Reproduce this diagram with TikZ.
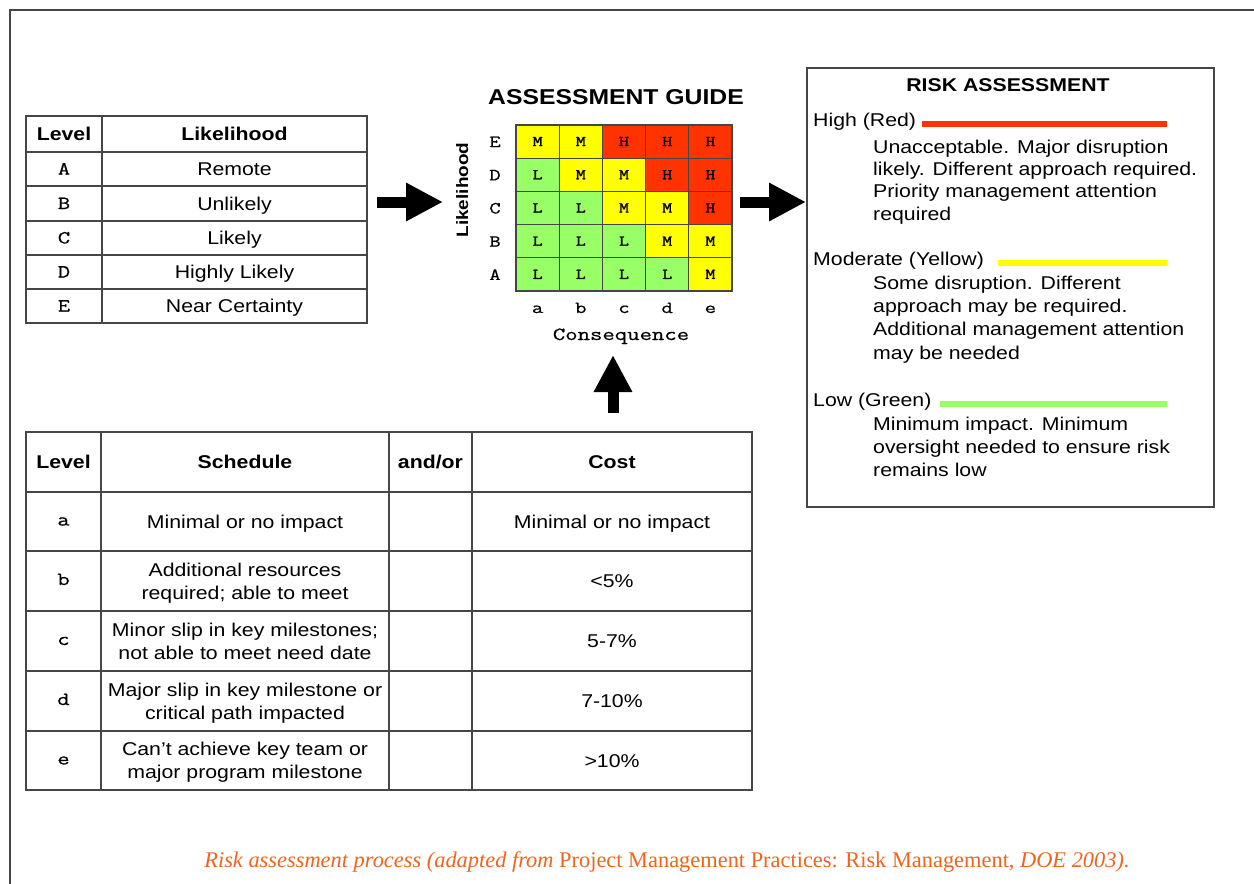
\documentclass[tikz,border=0pt]{standalone}
\usepackage{fontspec}
\setmainfont{Liberation Sans}[FakeStretch=1.15]
\newfontfamily\cour{Latin Modern Mono}[FakeStretch=1.3, FakeBold=0.6]
\newfontfamily\courb{Latin Modern Mono}[FakeStretch=1.3, FakeBold=1.6]
\newfontfamily\capfont{Liberation Serif}
\usetikzlibrary{arrows.meta}
\newcommand\myfs[1]{\fontsize{#1}{#1}\selectfont}
\definecolor{rred}{RGB}{255,51,0}
\definecolor{ryel}{RGB}{255,255,0}
\definecolor{rgrn}{RGB}{153,255,102}
\definecolor{capor}{RGB}{240,100,30}
\definecolor{ln}{RGB}{70,70,70}
\begin{document}
\begin{tikzpicture}[x=1pt,y=-1pt,
  txt/.style={inner sep=0pt, font=\myfs{18.5}, text height=13pt, text depth=0pt},
  hdr/.style={txt, font=\myfs{18.5}\bfseries},
  mono/.style={inner sep=0pt, font=\cour\myfs{18.5}, text height=11pt, text depth=0pt},
  monol/.style={inner sep=0pt, font=\cour\myfs{18.5}, text height=8pt, text depth=0pt},
  tline/.style={draw=ln, line width=1.3pt},
  gcell/.style={draw=ln, line width=1.2pt, minimum width=43.2pt, minimum height=33.2pt, inner sep=0pt, font=\courb\myfs{15}, text height=9pt, text depth=0pt},
  bigarrow/.style={line width=11pt, -{Triangle[length=37pt,width=36pt]}},
  bar/.style={line width=6pt},
]
\useasboundingbox (0,0) rectangle (1254,884);
\fill[white] (0,0) rectangle (1254,884);
% outer frame
\draw[ln, line width=2pt] (10,884) -- (10,10) -- (1254,10);

% ---------- top-left likelihood table ----------
\node[minimum width=341pt, minimum height=207pt, inner sep=0pt, anchor=north west] (lt) at (26,116) {};
\draw[tline] (26,116) rectangle (367,323);
\draw[tline] (102,116) -- (102,323);
\foreach \y in {152,186,221,255,289} \draw[tline] (26,\y) -- (367,\y);
\node[hdr] (lth1) at (64,134) {Level};
\node[hdr] (lth2) at (234.5,134) {Likelihood};
\node[mono] (ltA) at (64,169) {A};
\node[mono] (ltB) at (64,203.5) {B};
\node[mono] (ltC) at (64,238) {C};
\node[mono] (ltD) at (64,272) {D};
\node[mono] (ltE) at (64,306) {E};
\node[txt] (ltA2) at (234.5,169) {Remote};
\node[txt] (ltB2) at (234.5,203.5) {Unlikely};
\node[txt] (ltC2) at (234.5,238) {Likely};
\node[txt] (ltD2) at (234.5,272) {Highly Likely};
\node[txt] (ltE2) at (234.5,306) {Near Certainty};

% ---------- assessment guide ----------
\node[inner sep=0pt, font=\myfs{21.5}\bfseries, text height=15.5pt, text depth=0pt] (agt) at (616,97) {ASSESSMENT GUIDE};
\newcommand\gcell[4]{\node[gcell, fill=#3] (g#1#2) at ({516+43.2*(#2-0.5)},{125+33.2*(#1-0.5)}) {#4};}
\gcell{1}{1}{ryel}{M}\gcell{1}{2}{ryel}{M}\gcell{1}{3}{rred}{H}\gcell{1}{4}{rred}{H}\gcell{1}{5}{rred}{H}
\gcell{2}{1}{rgrn}{L}\gcell{2}{2}{ryel}{M}\gcell{2}{3}{ryel}{M}\gcell{2}{4}{rred}{H}\gcell{2}{5}{rred}{H}
\gcell{3}{1}{rgrn}{L}\gcell{3}{2}{rgrn}{L}\gcell{3}{3}{ryel}{M}\gcell{3}{4}{ryel}{M}\gcell{3}{5}{rred}{H}
\gcell{4}{1}{rgrn}{L}\gcell{4}{2}{rgrn}{L}\gcell{4}{3}{rgrn}{L}\gcell{4}{4}{ryel}{M}\gcell{4}{5}{ryel}{M}
\gcell{5}{1}{rgrn}{L}\gcell{5}{2}{rgrn}{L}\gcell{5}{3}{rgrn}{L}\gcell{5}{4}{rgrn}{L}\gcell{5}{5}{ryel}{M}
\draw[draw=ln, line width=1.5pt] (516,125) rectangle (732,291);
\node[mono, font=\cour\myfs{17}] (rE) at (495,141.6) {E};
\node[mono, font=\cour\myfs{17}] (rD) at (495,174.8) {D};
\node[mono, font=\cour\myfs{17}] (rC) at (495,208) {C};
\node[mono, font=\cour\myfs{17}] (rB) at (495,241.2) {B};
\node[mono, font=\cour\myfs{17}] (rA) at (495,274.4) {A};
\node[monol, font=\cour\myfs{17}] (ca) at (537.6,309) {a};
\node[monol, font=\cour\myfs{17}] (cb) at (580.8,309) {b};
\node[monol, font=\cour\myfs{17}] (cc) at (624,309) {c};
\node[monol, font=\cour\myfs{17}] (cd) at (667.2,309) {d};
\node[monol, font=\cour\myfs{17}] (ce) at (710.4,309) {e};
\node[monol] (cons) at (621,336) {Consequence};
\node[inner sep=0pt, font=\myfs{16.5}\bfseries, rotate=90, text height=12pt, text depth=0pt] (likl) at (462,190) {Likelihood};

% ---------- risk assessment box ----------
\node[draw=ln, line width=1.5pt, minimum width=407pt, minimum height=439pt, inner sep=0pt, anchor=north west] (rbox) at (806,67) {};
\node[hdr] (rbt) at (1008,85) {RISK ASSESSMENT};
\node[txt, anchor=base west] (hi) at (813,126.5) {High (Red)};
\node[txt, anchor=base west] (hi1) at (873,153.5) {Unacceptable. Major disruption};
\node[txt, anchor=base west] (hi2) at (873,175.5) {likely. Different approach required.};
\node[txt, anchor=base west] (hi3) at (873,197.5) {Priority management attention};
\node[txt, anchor=base west] (hi4) at (873,220.5) {required};
\node[txt, anchor=base west] (mo) at (813,265.5) {Moderate (Yellow)};
\node[txt, anchor=base west] (mo1) at (873,289.5) {Some disruption. Different};
\node[txt, anchor=base west] (mo2) at (873,312.5) {approach may be required.};
\node[txt, anchor=base west] (mo3) at (873,335.5) {Additional management attention};
\node[txt, anchor=base west] (mo4) at (873,359.5) {may be needed};
\node[txt, anchor=base west] (lo) at (813,406.5) {Low (Green)};
\node[txt, anchor=base west] (lo1) at (873,430.5) {Minimum impact. Minimum};
\node[txt, anchor=base west] (lo2) at (873,453) {oversight needed to ensure risk};
\node[txt, anchor=base west] (lo3) at (873,476.5) {remains low};
\draw[bar, rred] (922,124) -- (1167,124);
\draw[bar, ryel] (998,263) -- (1167,263);
\draw[bar, rgrn] (940,404) -- (1167,404);

% ---------- bottom consequence table ----------
\node[minimum width=726pt, minimum height=358pt, inner sep=0pt, anchor=north west] (bt) at (26,432) {};
\draw[tline] (26,432) rectangle (752,790);
\foreach \x in {101,389,472} \draw[tline] (\x,432) -- (\x,790);
\foreach \y in {492,551,611,671,731} \draw[tline] (26,\y) -- (752,\y);
\node[hdr] (bh1) at (63.5,462) {Level};
\node[hdr] (bh2) at (245,462) {Schedule};
\node[hdr] (bh3) at (430.5,462) {and/or};
\node[hdr] (bh4) at (612,462) {Cost};
\node[monol] (ba) at (63.5,521.5) {a};
\node[monol] (bb) at (63.5,581) {b};
\node[monol] (bc) at (63.5,641) {c};
\node[monol] (bd) at (63.5,701) {d};
\node[monol] (be) at (63.5,760.5) {e};
\node[txt] (sa) at (245,521.5) {Minimal or no impact};
\node[txt] (sb1) at (245,570) {Additional resources};
\node[txt] (sb2) at (245,593) {required; able to meet};
\node[txt] (sc1) at (245,630) {Minor slip in key milestones;};
\node[txt] (sc2) at (245,653) {not able to meet need date};
\node[txt] (sd1) at (245,690) {Major slip in key milestone or};
\node[txt] (sd2) at (245,713) {critical path impacted};
\node[txt] (se1) at (245,749) {Can't achieve key team or};
\node[txt] (se2) at (245,772) {major program milestone};
\node[txt] (ka) at (612,521.5) {Minimal or no impact};
\node[txt] (kb) at (612,581) {<5\%};
\node[txt] (kc) at (612,641) {5-7\%};
\node[txt] (kd) at (612,701) {7-10\%};
\node[txt] (ke) at (612,760.5) {>10\%};

% ---------- arrows ----------
\coordinate (a1s) at (377,202);
\coordinate (a1e) at (443,202);
\draw[bigarrow] (a1s) -- (a1e);
\coordinate (a2s) at (740,202);
\draw[bigarrow] (a2s) -- (rbox.west |- a2s);
\coordinate (a3s) at (613,413);
\coordinate (a3e) at (613,355);
\draw[bigarrow] (a3s) -- (a3e);

% ---------- caption ----------
\node[inner sep=0pt, text=capor, font=\capfont\myfs{22.4}, text height=14.5pt, text depth=0pt] (cap) at (667,860)
  {\itshape Risk assessment process (adapted from \upshape Project Management Practices: Risk Management, \itshape DOE 2003).};
\end{tikzpicture}
\end{document}
